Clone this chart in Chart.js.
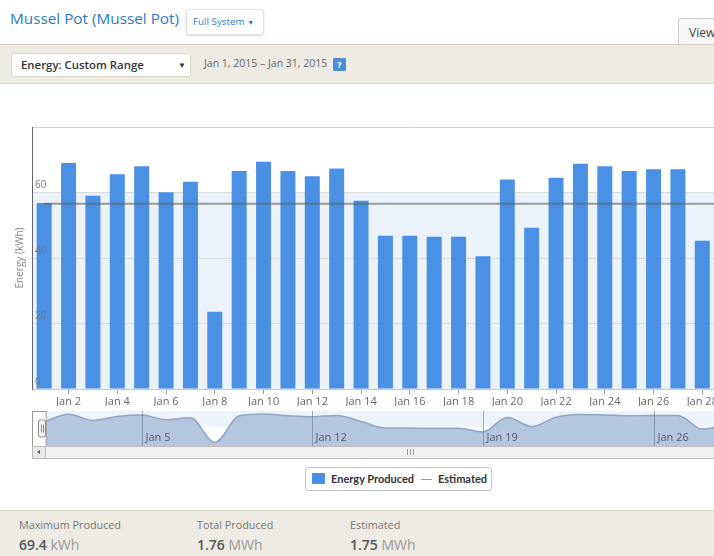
<!DOCTYPE html>
<html><head><meta charset="utf-8">
<script src="https://cdn.jsdelivr.net/npm/chart.js@4.4.1/dist/chart.umd.min.js"></script>
<style>
html,body{margin:0;padding:0;width:714px;height:556px;overflow:hidden;background:#fff;font-family:"Open Sans",sans-serif;}
.abs{position:absolute;}
#title{left:10px;top:8px;font-size:15.3px;color:#2b7bc4;white-space:nowrap;}
#sysbtn{left:186px;top:9px;width:76px;height:24px;border:1px solid #e2e2e2;border-radius:3px;box-shadow:0 1px 2px rgba(0,0,0,.15);background:#fff;font-size:9.8px;color:#2b7bc4;line-height:24px;text-indent:6px;white-space:nowrap;}
#tab{left:678px;top:18px;width:60px;height:27px;border:1px solid #ccc;border-bottom:none;border-radius:3px 3px 0 0;background:#f7f7f7;font-size:12px;color:#444;line-height:27px;text-indent:10px;}
#toolbar{left:0;top:44px;width:714px;height:38px;background:#edebe4;border-top:1px solid #cfcbbf;border-bottom:1px solid #dcd8ce;}
#sel{left:11px;top:53px;width:178px;height:22px;background:#fff;border:1px solid #d9d6cc;border-radius:3px;font-size:11.4px;font-weight:600;color:#333;line-height:22px;text-indent:9px;white-space:nowrap;}
#range{left:204px;top:56px;font-size:10.5px;color:#666;white-space:nowrap;}
#help{left:333px;top:58px;width:13px;height:13px;background:#4a8fd6;color:#fff;font-size:9px;font-weight:bold;text-align:center;line-height:13px;border-radius:1px;}
#mainWrap{left:0;top:100px;width:800px;height:306px;}
#navWrap{left:0;top:405px;width:800px;height:41px;}
#scroll{left:32px;top:446px;width:760px;height:11px;background:#f1f1f1;border:1px solid #bdbdbd;}
#sbtn{left:32px;top:446px;width:12px;height:11px;border:1px solid #bdbdbd;background:#e9e9e9;}
#legend{left:305px;top:467px;width:185px;height:22px;border:1px solid #c4c4c4;border-radius:3px;background:#fff;font-family:Lato,sans-serif;font-size:11px;font-weight:700;color:#333;white-space:nowrap;}
#footer{left:0;top:510px;width:714px;height:46px;background:#edebe4;border-top:1px solid #d8d5cb;}
.lab{font-size:10.8px;color:#777;white-space:nowrap;}
.val{font-size:14px;color:#555;font-weight:600;white-space:nowrap;}
.val span{font-weight:400;color:#999;}
</style></head>
<body>
<div id="title" class="abs">Mussel Pot (Mussel Pot)</div>
<div id="sysbtn" class="abs">Full System <span style="font-size:7px">&#9660;</span></div>
<div id="tab" class="abs">View</div>
<div id="toolbar" class="abs"></div>
<div id="sel" class="abs">Energy: Custom Range<span class="abs" style="left:166px;top:0;font-size:8px;color:#333;text-indent:0">&#9660;</span></div>
<div id="range" class="abs">Jan 1, 2015 &ndash; Jan 31, 2015</div>
<div id="help" class="abs">?</div>

<div id="mainWrap" class="abs"><canvas id="main"></canvas></div>
<div id="navWrap" class="abs"><canvas id="nav"></canvas></div>
<div id="scroll" class="abs"><div class="abs" style="left:374px;top:2px;width:1px;height:6px;background:#999"></div><div class="abs" style="left:377px;top:2px;width:1px;height:6px;background:#999"></div><div class="abs" style="left:380px;top:2px;width:1px;height:6px;background:#999"></div></div>
<div id="sbtn" class="abs"><div class="abs" style="left:4px;top:3px;width:0;height:0;border-top:2.5px solid transparent;border-bottom:2.5px solid transparent;border-right:3px solid #555"></div></div>

<div id="legend" class="abs">
  <div class="abs" style="left:6px;top:5px;width:13px;height:11px;background:#4a91e6;border-radius:1px"></div>
  <div class="abs" style="left:25px;top:4px">Energy Produced</div>
  <div class="abs" style="left:115px;top:11px;width:11px;height:1px;background:#999"></div>
  <div class="abs" style="left:132px;top:4px">Estimated</div>
</div>

<div id="footer" class="abs">
  <div class="abs lab" style="left:19px;top:6px">Maximum Produced</div>
  <div class="abs val" style="left:19px;top:24px">69.4 <span>kWh</span></div>
  <div class="abs lab" style="left:197px;top:6px">Total Produced</div>
  <div class="abs val" style="left:197px;top:24px">1.76 <span>MWh</span></div>
  <div class="abs lab" style="left:350px;top:6px">Estimated</div>
  <div class="abs val" style="left:350px;top:24px">1.75 <span>MWh</span></div>
</div>

<script>
// ---- data ----
const categories = ["Jan 1","Jan 2","Jan 3","Jan 4","Jan 5","Jan 6","Jan 7","Jan 8","Jan 9","Jan 10","Jan 11","Jan 12","Jan 13","Jan 14","Jan 15","Jan 16","Jan 17","Jan 18","Jan 19","Jan 20","Jan 21","Jan 22","Jan 23","Jan 24","Jan 25","Jan 26","Jan 27","Jan 28","Jan 29","Jan 30","Jan 31"];
const energyProduced = [56.8,69.0,59.0,65.6,68.0,60.1,63.3,23.6,66.6,69.4,66.6,65.0,67.3,57.5,46.8,46.8,46.5,46.5,40.5,64.0,49.2,64.5,68.8,68.0,66.6,67.1,67.1,45.3,50.0,34.0,30.5];
const estimatedDaily = 56.6;
const estimatedSeries = categories.map(() => estimatedDaily);
const yTicks = [0,20,40,60,80];
const navWeekLabels = ["Jan 5","Jan 12","Jan 19","Jan 26"];
const bandRange = [0,60];

// ---- main chart ----
const bandPlugin = {
  id:'band',
  beforeDraw(chart){
    const {ctx, chartArea:a, scales:{y}} = chart;
    const y0 = y.getPixelForValue(bandRange[0]), y1 = y.getPixelForValue(bandRange[1]);
    ctx.save();
    ctx.fillStyle = '#ebf2fa';
    ctx.fillRect(a.left, y1, a.right - a.left, y0 - y1);
    ctx.restore();
  }
};

new Chart(document.getElementById('main'), {
  type:'bar',
  data:{
    labels:categories,
    datasets:[
      {type:'line', label:'Estimated', data:estimatedSeries, borderColor:'rgba(95,95,95,0.6)', borderWidth:2, pointRadius:0, order:0},
      {type:'bar', label:'Energy Produced', data:energyProduced, backgroundColor:'#4a91e6', barPercentage:0.615, categoryPercentage:1.0, order:1}
    ]
  },
  options:{
    responsive:true, maintainAspectRatio:false, animation:false,
    layout:{padding:{left:0,right:12.4,top:27,bottom:0}},
    plugins:{legend:{display:false}, tooltip:{enabled:false}},
    scales:{
      x:{
        grid:{drawOnChartArea:false, offset:false, tickLength:5, color:(c)=> (c.index%2===1 ? '#999' : 'rgba(0,0,0,0)')},
        border:{display:true, color:'#c8c8c8'},
        ticks:{autoSkip:false, maxRotation:0, padding:1, color:'#666', font:{family:'Open Sans', size:11},
          callback:function(v,i){ return i%2===1 ? this.getLabelForValue(v) : ''; }},
        afterFit:(s)=>{ s.height = 17; }
      },
      y:{
        min:0, max:80,
        afterBuildTicks:(s)=>{ s.ticks = yTicks.map(v=>({value:v})); },
        grid:{drawTicks:false, color:(c)=> c.tick.value===80 ? '#d6d2c6' : (c.tick.value===0 ? 'rgba(0,0,0,0)' : '#dadada')},
        border:{display:true, color:'#666'},
        ticks:{z:1, mirror:true, padding:3, labelOffset:-7, color:'#777', font:{family:'Open Sans', size:10},
          callback:(v)=> v===80 ? '' : v},
        title:{display:true, text:'Energy (kWh)', color:'#888', font:{family:'Open Sans', size:10}, padding:{top:14,bottom:0}},
        afterFit:(s)=>{ s.width = 32; }
      }
    }
  },
  plugins:[bandPlugin]
});

// ---- navigator ----
const navPlugin = {
  id:'navdeco',
  beforeDatasetsDraw(chart){
    const {ctx, chartArea:a} = chart;
    ctx.save();
    ctx.fillStyle = '#eef3f9';
    ctx.fillRect(a.left, a.top, a.right - a.left, (a.bottom - a.top) * 0.45);
    ctx.restore();
  },
  afterDatasetsDraw(chart){
    const {ctx, chartArea:a, scales:{x}} = chart;
    ctx.save();
    ctx.strokeStyle = 'rgba(110,130,160,0.7)';
    ctx.lineWidth = 1;
    ctx.fillStyle = '#4d5a6a';
    ctx.font = '11px "Open Sans"';
    ctx.textBaseline = 'middle';
    categories.forEach((c,i)=>{
      if(navWeekLabels.includes(c)){
        const px = Math.round(x.getPixelForValue(i)) + 0.5;
        ctx.beginPath(); ctx.moveTo(px, a.top); ctx.lineTo(px, a.bottom); ctx.stroke();
        ctx.fillText(c, px + 3, a.bottom - 8);
      }
    });
    const hx = x.getPixelForValue(0);
    ctx.fillStyle = 'rgba(255,255,255,0.95)';
    ctx.fillRect(a.left, a.top, hx - a.left + 2, a.bottom - a.top);
    ctx.strokeStyle = '#999';
    ctx.strokeRect(a.left + 0.5, a.top + 0.5, hx - a.left + 1.5, a.bottom - a.top);
    const hy = a.top + (a.bottom - a.top) / 2;
    ctx.fillStyle = '#f4f4f4';
    ctx.strokeStyle = '#888';
    ctx.beginPath();
    ctx.roundRect(a.left + 6.5, hy - 8.5, 7, 17, 2);
    ctx.fill(); ctx.stroke();
    ctx.beginPath();
    ctx.moveTo(a.left + 9.5, hy - 4); ctx.lineTo(a.left + 9.5, hy + 4);
    ctx.moveTo(a.left + 11.5, hy - 4); ctx.lineTo(a.left + 11.5, hy + 4);
    ctx.stroke();
    ctx.restore();
  }
};

new Chart(document.getElementById('nav'), {
  type:'line',
  data:{labels:categories, datasets:[{data:energyProduced, borderColor:'#8ea6c6', borderWidth:1.5, backgroundColor:'#b5c7de', fill:'origin', pointRadius:0, cubicInterpolationMode:'monotone'}]},
  options:{
    responsive:true, maintainAspectRatio:false, animation:false,
    layout:{padding:{left:32,right:12.4,top:6,bottom:0}},
    plugins:{legend:{display:false}, tooltip:{enabled:false}},
    scales:{
      x:{display:false, offset:true},
      y:{display:false, min:17.7, max:74.4}
    }
  },
  plugins:[navPlugin]
});
</script>
</body></html>
